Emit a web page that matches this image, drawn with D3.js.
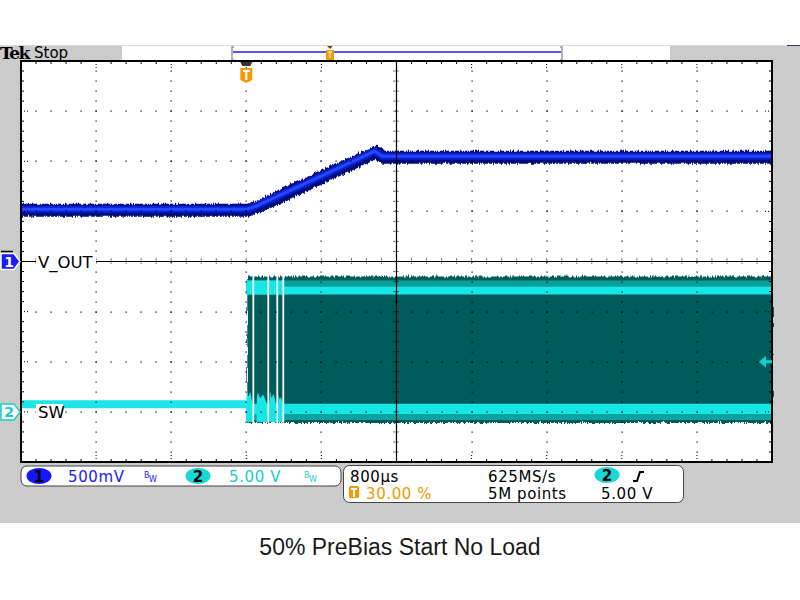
<!DOCTYPE html>
<html><head><meta charset="utf-8">
<script src="https://cdn.jsdelivr.net/npm/d3@7"></script>
<style>html,body{margin:0;padding:0;background:#fff;}svg{display:block;}</style>
</head><body>
<svg id="c" width="800" height="600"></svg>
<script>
// ---------- data ----------
// Time axis: ms relative to trigger, 800 µs/div, trigger at 30 %
const timeDomain = [-2.4, 5.6];
const divTimes = [-2.4, -1.6, -0.8, 0.0, 0.8, 1.6, 2.4, 3.2, 4.0, 4.8, 5.6];
// CH1 V_OUT (V), 500 mV/div
const voutTime = [-2.4, 0.0, 0.1, 1.30, 1.37, 1.45, 5.6];
const voutVolt = [0.52, 0.52, 0.55, 1.07, 1.10, 1.05, 1.05];
// CH2 SW (V), 5 V/div
const swPreTime = [-2.4, 0.0];
const swPreVolt = [0.75, 0.75];
const swSwTime = [0.0, 5.6];
const swEnvHigh = [13.6, 13.6];
const swEnvLow = [-1.0, -1.0];
const swHighBand = [11.7, 12.5];
const swHighGlow = [12.5, 13.1];
const swLowBand = [-0.2, 0.8];
const swLowGlow = [-0.8, -0.2];
const swEarlyEnd = 0.394;
const swGapTimes = [0.075, 0.234, 0.330, 0.394];
const burstStart = [0.0, 0.11, 0.245, 0.34];
const burstEnd = [0.07, 0.225, 0.32, 0.388];
const burstPeak = [2.8, 2.4, 2.5, 2.0];
const trigLevel = 5.0;
const ch1Label = "V_OUT", ch2Label = "SW";
const title = "50% PreBias Start No Load";

// ---------- layout ----------
const svg = d3.select("#c");
const L = 21, R = 772, T = 61, B = 462;
const x = d3.scaleLinear().domain(timeDomain).range([L, R]);
const yDiv = d3.scaleLinear().domain([-4, 4]).range([B, T]);
const y1 = d3.scaleLinear().domain([-2, 2]).range([B, T]);
const y2 = d3.scaleLinear().domain([-5, 35]).range([B, T]);
const GRAY = "#cbcbcb";
const FONT = "DejaVu Sans, Verdana, sans-serif";

const defs = svg.append("defs");
const f = defs.append("filter").attr("id","jag").attr("x","-5%").attr("y","-20%").attr("width","110%").attr("height","140%");
f.append("feTurbulence").attr("type","turbulence").attr("baseFrequency","0.6 0.02").attr("numOctaves",2).attr("seed",3).attr("result","n");
f.append("feDisplacementMap").attr("in","SourceGraphic").attr("in2","n").attr("scale",4).attr("xChannelSelector","R").attr("yChannelSelector","G");

// background
svg.append("rect").attr("x",0).attr("y",45).attr("width",800).attr("height",478).attr("fill",GRAY);
svg.append("line").attr("x1",0).attr("x2",800).attr("y1",45.5).attr("y2",45.5).attr("stroke","#dcdcdc");
svg.append("rect").attr("x",122).attr("y",46).attr("width",548).attr("height",14).attr("fill","#fff");
svg.append("line").attr("x1",787).attr("x2",800).attr("y1",45.5).attr("y2",45.5).attr("stroke","#335");
svg.append("text").attr("x",0).attr("y",59).attr("font-family","DejaVu Serif, serif").attr("font-weight","bold").attr("font-size",17).attr("letter-spacing",-1.5).text("Tek");
svg.append("text").attr("x",34).attr("y",58).attr("font-family",FONT).attr("font-size",15).text("Stop");

// record view
svg.append("path").attr("d","M234,47 h-2 v13 h2").attr("fill","none").attr("stroke","#999").attr("stroke-width",1.5);
svg.append("path").attr("d","M560,47 h2 v13 h-2").attr("fill","none").attr("stroke","#999").attr("stroke-width",1.5);
svg.append("line").attr("x1",233).attr("x2",561).attr("y1",52).attr("y2",52).attr("stroke","#1a1aff").attr("stroke-width",1.5);
svg.append("path").attr("d","M327,46 h6 l-3,3 z").attr("fill","#6b4a1a");
svg.append("rect").attr("x",326).attr("y",50).attr("width",8).attr("height",10).attr("fill","#f39a00");
svg.append("path").attr("d","M328,52 h4 M330,52 v6").attr("stroke","#fff").attr("stroke-width",1);

// plot area
svg.append("rect").attr("x",L).attr("y",T).attr("width",R-L).attr("height",B-T).attr("fill","#fff");

// ---------- traces ----------
const g = svg.append("g");
// CH2 pre-trigger
const preLine = d3.line().x((d,i)=>x(swPreTime[i])).y(d=>y2(d));
g.append("path").attr("d",preLine(swPreVolt)).attr("stroke","#0a8f8f").attr("stroke-width",11).attr("fill","none").attr("filter","url(#jag)");
g.append("path").attr("d",preLine(swPreVolt)).attr("stroke","#1ee6e6").attr("stroke-width",8).attr("fill","none");

// switching envelope
const band = (lo, hi, t0, t1) => d3.area().x(d=>x(d)).y0(y2(lo)).y1(y2(hi))([t0, t1]);
g.append("path").attr("d",band(swEnvLow[0], swEnvHigh[0], swSwTime[0], swSwTime[1])).attr("fill","#005c5a").attr("filter","url(#jag)");
g.append("path").attr("d",band(swHighGlow[0], swHighGlow[1], swSwTime[0], swSwTime[1])).attr("fill","#0a9f9d");
g.append("path").attr("d",band(swHighBand[0], swHighBand[1], swSwTime[0], swSwTime[1])).attr("fill","#16e6e6");
g.append("path").attr("d",band(swHighBand[0], swHighGlow[1], swSwTime[0], swEarlyEnd)).attr("fill","#16e6e6");
g.append("path").attr("d",band(swLowGlow[0], swLowGlow[1], swSwTime[0], swSwTime[1])).attr("fill","#0aa3a1");
g.append("path").attr("d",band(swLowBand[0], swLowBand[1], swSwTime[0], swSwTime[1])).attr("fill","#16e6e6");
// ringing bursts in start-up region
burstStart.forEach((s,i)=>{
  const e = burstEnd[i], m = (s+e)/2;
  const a = d3.area().x(d=>x(d[0])).y0(y2(-1.0)).y1(d=>y2(d[1])).curve(d3.curveBasis);
  g.append("path").attr("d",a([[s,0.8],[s+(m-s)*0.2,burstPeak[i]],[s+(m-s)*0.6,1.0],[m+(e-m)*0.2,burstPeak[i]*0.85],[m+(e-m)*0.7,1.0],[e,0.8]])).attr("fill","#16e6e6");
  g.append("rect").attr("x",x(s)+0.5).attr("y",y2(-0.2)).attr("width",Math.max(0,x(e)-x(s)-1)).attr("height",y2(-1.0)-y2(-0.2)).attr("fill","#16e6e6");
});
// white gaps
swGapTimes.forEach(t=>{
  g.append("rect").attr("x",x(t)-0.9).attr("y",y2(swEnvHigh[0])-1).attr("width",1.8).attr("height",y2(swEnvLow[0])-y2(swEnvHigh[0])+2).attr("fill","#fff");
});

// CH1 V_OUT
const vLine = d3.line().x((d,i)=>x(voutTime[i])).y(d=>y1(d));
g.append("path").attr("d",vLine(voutVolt)).attr("stroke","#000c7a").attr("stroke-width",13).attr("fill","none").attr("stroke-linejoin","round").attr("filter","url(#jag)");
g.append("path").attr("d",vLine(voutVolt)).attr("stroke","#0a1fd0").attr("stroke-width",7).attr("fill","none").attr("stroke-linejoin","round");
g.append("path").attr("d",vLine(voutVolt)).attr("stroke","#2448ff").attr("stroke-width",3).attr("fill","none").attr("stroke-linejoin","round");

// ---------- graticule ----------
const gr = svg.append("g").attr("stroke","#000").attr("fill","#000");
const dX = (R-L)/10, dY = (B-T)/8;
for (let i=1;i<10;i++){ if(i===5) continue;
  const xx = x(divTimes[i]);
  for (let k=1;k<40;k++){ gr.append("rect").attr("x",Math.round(xx)-0.5).attr("y",Math.round(T+k*dY/5)-0.5).attr("width",1.2).attr("height",1.2).attr("stroke","none"); }
}
for (let j=-3;j<=3;j++){ if(j===0) continue;
  const yy = yDiv(j);
  for (let k=1;k<50;k++){ gr.append("rect").attr("x",Math.round(L+k*dX/5)-0.5).attr("y",Math.round(yy)-0.5).attr("width",1.2).attr("height",1.2).attr("stroke","none"); }
}
const cx = x(divTimes[5]), cy = yDiv(0);
gr.append("line").attr("x1",cx).attr("x2",cx).attr("y1",T).attr("y2",B).attr("stroke-width",1.2);
gr.append("line").attr("x1",L).attr("x2",R).attr("y1",cy).attr("y2",cy).attr("stroke-width",1.2);
for (let k=1;k<40;k++){ const yy=T+k*dY/5; gr.append("line").attr("x1",cx-3).attr("x2",cx+3).attr("y1",yy).attr("y2",yy).attr("stroke-width",1).attr("stroke-dasharray","1,1"); }
for (let k=1;k<50;k++){ const xx=L+k*dX/5; gr.append("line").attr("x1",xx).attr("x2",xx).attr("y1",cy-3).attr("y2",cy+3).attr("stroke-width",1).attr("stroke-dasharray","1,1"); }
for (let k=1;k<50;k++){ const xx=L+k*dX/5, maj=k%5===0, len=maj?8:3;
  gr.append("line").attr("x1",xx).attr("x2",xx).attr("y1",T).attr("y2",T+len).attr("stroke-width",1).attr("stroke-dasharray",maj?"1,2":null);
  gr.append("line").attr("x1",xx).attr("x2",xx).attr("y1",B).attr("y2",B-len).attr("stroke-width",1).attr("stroke-dasharray",maj?"1,2":null);
}
for (let k=1;k<40;k++){ const yy=T+k*dY/5, maj=k%5===0, len=maj?8:3;
  gr.append("line").attr("x1",L).attr("x2",L+len).attr("y1",yy).attr("y2",yy).attr("stroke-width",1).attr("stroke-dasharray",maj?"1,2":null);
  gr.append("line").attr("x1",R).attr("x2",R-len).attr("y1",yy).attr("y2",yy).attr("stroke-width",1).attr("stroke-dasharray",maj?"1,2":null);
}
svg.append("rect").attr("x",L).attr("y",T).attr("width",R-L).attr("height",B-T).attr("fill","none").attr("stroke","#000").attr("stroke-width",2);

// ---------- labels ----------
svg.append("rect").attr("x",36).attr("y",253).attr("width",60).attr("height",18).attr("fill","#fff");
svg.append("text").attr("x",38).attr("y",268).attr("font-family",FONT).attr("font-size",16.5).attr("fill","#000").text(ch1Label);
svg.append("rect").attr("x",36).attr("y",404).attr("width",27).attr("height",15).attr("fill","#fff");
svg.append("text").attr("x",38).attr("y",418).attr("font-family",FONT).attr("font-size",16.5).attr("fill","#000").text(ch2Label);

const mk = (yy, fill, stroke, txt, tc) => {
  svg.append("path").attr("d",`M1,${yy-8} H14 L20,${yy} L14,${yy+8} H1 Z`).attr("fill",fill).attr("stroke",stroke).attr("stroke-width",1.5);
  svg.append("text").attr("x",9).attr("y",yy+5).attr("text-anchor","middle").attr("font-family",FONT).attr("font-weight","bold").attr("font-size",14).attr("fill",tc).text(txt);
};
mk(y1(0), "#1a1aff", "#fff", "1", "#fff");
mk(y2(0), "#fff", "#16d0d0", "2", "#16c8c8");
svg.append("line").attr("x1",1).attr("x2",13).attr("y1",y1(0)-10).attr("y2",y1(0)-10).attr("stroke","#000").attr("stroke-width",1.5);

// trigger level arrow (right)
const ty = y2(trigLevel);
svg.append("path").attr("d",`M759,${ty} L766,${ty-6} L766,${ty-1.5} L772,${ty-1.5} L772,${ty+1.5} L766,${ty+1.5} L766,${ty+6} Z`).attr("fill","#16d0d0");

// trigger position marker (top)
const tx = x(0);
svg.append("path").attr("d",`M${tx-6},${T+1} H${tx+6} L${tx+4},${T+5} H${tx-4} Z`).attr("fill","#333");
svg.append("path").attr("d",`M${tx-6},${T+7} H${tx+6} V${T+19} L${tx},${T+22} L${tx-6},${T+19} Z`).attr("fill","#f39a00");
svg.append("path").attr("d",`M${tx-3.5},${T+10} H${tx+3.5} M${tx},${T+10} V${T+19}`).attr("stroke","#fff").attr("stroke-width",2);

// ---------- bottom readouts ----------
svg.append("rect").attr("x",21).attr("y",466).attr("width",320).attr("height",20).attr("rx",6).attr("fill","#fff").attr("stroke","#444").attr("stroke-width",1);
svg.append("rect").attr("x",343.5).attr("y",465.5).attr("width",340).attr("height",37).attr("rx",6).attr("fill","#fff").attr("stroke","#444").attr("stroke-width",1);

const ell = (cxx, cyy, fill, txt) => {
  svg.append("ellipse").attr("cx",cxx).attr("cy",cyy).attr("rx",12.5).attr("ry",8).attr("fill",fill);
  svg.append("text").attr("x",cxx).attr("y",cyy+5.5).attr("text-anchor","middle").attr("font-family",FONT).attr("font-size",15).attr("font-weight","bold").attr("fill","#000").text(txt);
};
const txt = (xx, yy, s, fill, size) => svg.append("text").attr("x",xx).attr("y",yy).attr("font-family",FONT).attr("font-size",size||15).attr("letter-spacing",0.6).attr("fill",fill).text(s);
ell(39, 476, "#1515ff", "1");
txt(68, 482, "500mV", "#1a1aff");
const bw = (xx, col) => { txt(xx, 478, "B", col, 8).attr("letter-spacing",0); txt(xx+5, 482, "W", col, 8).attr("letter-spacing",0); };
bw(144, "#1a1aff");
ell(198, 476, "#1ad8d8", "2");
txt(229, 482, "5.00 V", "#18cccc");
bw(304, "#18cccc");

txt(350, 482, "800µs", "#000");
svg.append("rect").attr("x",349).attr("y",486).attr("width",10).attr("height",12).attr("rx",1.5).attr("fill","#f39a00");
svg.append("path").attr("d","M351,489 h6 M354,489 v8").attr("stroke","#fff").attr("stroke-width",2);
txt(366, 499, "30.00 %", "#f39a00");
txt(488, 482, "625MS/s", "#000");
txt(488, 499, "5M points", "#000");
ell(607, 475, "#1ad8d8", "2");
svg.append("path").attr("d","M633,481 H637 L640,472 H644").attr("fill","none").attr("stroke","#000").attr("stroke-width",2);
txt(601, 499, "5.00 V", "#000");

svg.append("text").attr("x",400).attr("y",555).attr("text-anchor","middle").attr("font-family","Liberation Sans, Arial, sans-serif").attr("font-size",23).attr("fill","#1a1a1a").text(title);
</script>
</body></html>
